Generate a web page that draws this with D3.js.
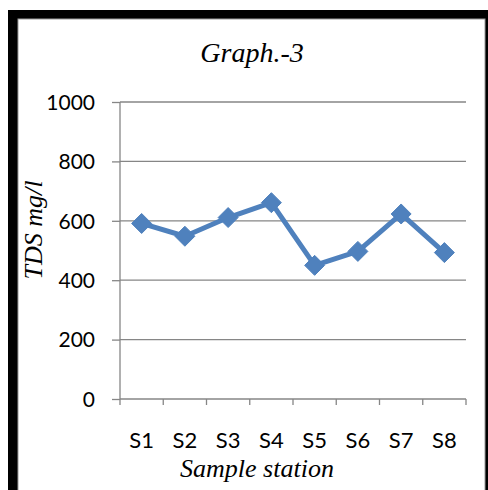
<!DOCTYPE html>
<html>
<head>
<meta charset="utf-8">
<script src="https://cdn.jsdelivr.net/npm/d3@7/dist/d3.min.js"></script>
<style>
  html, body { margin: 0; padding: 0; background: #fff; }
  svg { display: block; }
  .serif { font-family: "Liberation Serif", "DejaVu Serif", "Times New Roman", serif; font-style: italic; }
  .sans { font-family: Lato, "Open Sans", sans-serif; }
</style>
</head>
<body>
<svg id="chart" width="488" height="490"></svg>
<script>
const categories = ["S1", "S2", "S3", "S4", "S5", "S6", "S7", "S8"];
const tdsValues = [591, 548, 611, 661, 450, 497, 623, 493];
const yTicks = [0, 200, 400, 600, 800, 1000];
const titleText = "Graph.-3";
const xTitle = "Sample station";
const yTitle = "TDS mg/l";

(function () {
const svg = d3.select("#chart");
const blue = "#4F81BD";
const gray = "#868686";

// outer frame
svg.append("rect").attr("x", 8).attr("y", 10).attr("width", 500).attr("height", 500).attr("fill", "#000");
svg.append("rect").attr("x", 18).attr("y", 19).attr("width", 467).attr("height", 480).attr("fill", "#fff")
  .attr("stroke", "#9a9a9a").attr("stroke-width", 1);

const pLeft = 120, pRight = 466, pTop = 102, pBottom = 399;
const x = d3.scaleBand().domain(categories).range([pLeft, pRight]).padding(0);
const y = d3.scaleLinear().domain([0, 1000]).range([pBottom, pTop]);

// gridlines
svg.append("g").selectAll("line").data(yTicks.filter(d => d > 0)).join("line")
  .attr("x1", pLeft).attr("x2", pRight)
  .attr("y1", d => y(d)).attr("y2", d => y(d))
  .attr("stroke", gray).attr("stroke-width", 1.3);

// y axis
const yAxis = svg.append("g").attr("transform", `translate(${pLeft},0)`)
  .call(d3.axisLeft(y).tickValues(yTicks).tickSize(8).tickPadding(17).tickFormat(d3.format("d")));
yAxis.attr("font-family", null).attr("font-size", null);
yAxis.select(".domain").attr("stroke", gray).attr("stroke-width", 1.3).attr("d", `M0,${pTop}V${pBottom}`);
yAxis.selectAll(".tick line").attr("stroke", gray).attr("stroke-width", 1.3);
yAxis.selectAll(".tick text").attr("fill", "#000").attr("class", "sans")
  .style("font-size", "21px").attr("dy", "0.35em");

// x axis: ticks at band boundaries
const xAxisG = svg.append("g").attr("transform", `translate(0,${pBottom})`);
xAxisG.append("line").attr("x1", pLeft).attr("x2", pRight).attr("y1", 0).attr("y2", 0)
  .attr("stroke", gray).attr("stroke-width", 1.3);
const boundaries = categories.map(c => x(c)).concat([pRight]);
xAxisG.selectAll("line.tk").data(boundaries).join("line").attr("class", "tk")
  .attr("x1", d => d).attr("x2", d => d).attr("y1", 0).attr("y2", 6)
  .attr("stroke", gray).attr("stroke-width", 1.3);
xAxisG.selectAll("text").data(categories).join("text")
  .attr("class", "sans")
  .attr("x", d => x(d) + x.bandwidth() / 2).attr("y", 43)
  .attr("text-anchor", "middle").attr("dominant-baseline", "middle")
  .style("font-size", "22px").attr("fill", "#000")
  .text(d => d);

// line
const cx = (d, i) => x(categories[i]) + x.bandwidth() / 2;
const line = d3.line().x((d, i) => cx(d, i)).y(d => y(d));
svg.append("path").datum(tdsValues).attr("d", line).attr("fill", "none")
  .attr("stroke", blue).attr("stroke-width", 5).attr("stroke-linejoin", "round");

// diamond markers
const r = 10;
svg.append("g").selectAll("path").data(tdsValues).join("path")
  .attr("d", (d, i) => {
    const px = cx(d, i), py = y(d);
    return `M${px},${py - r}L${px + r},${py}L${px},${py + r}L${px - r},${py}Z`;
  })
  .attr("fill", blue).attr("stroke", blue).attr("stroke-width", 1);

// titles
svg.append("text").attr("class", "serif").attr("x", 252).attr("y", 56).attr("text-anchor", "middle").attr("dominant-baseline", "middle")
  .style("font-size", "28px").text(titleText);
svg.append("text").attr("class", "serif").attr("x", 257).attr("y", 471).attr("text-anchor", "middle").attr("dominant-baseline", "middle")
  .style("font-size", "26px").text(xTitle);
svg.append("text").attr("class", "serif").attr("transform", "translate(36,230) rotate(-90)").attr("text-anchor", "middle")
  .attr("dominant-baseline", "middle")
  .style("font-size", "26px").text(yTitle);
})();
</script>
</body>
</html>
